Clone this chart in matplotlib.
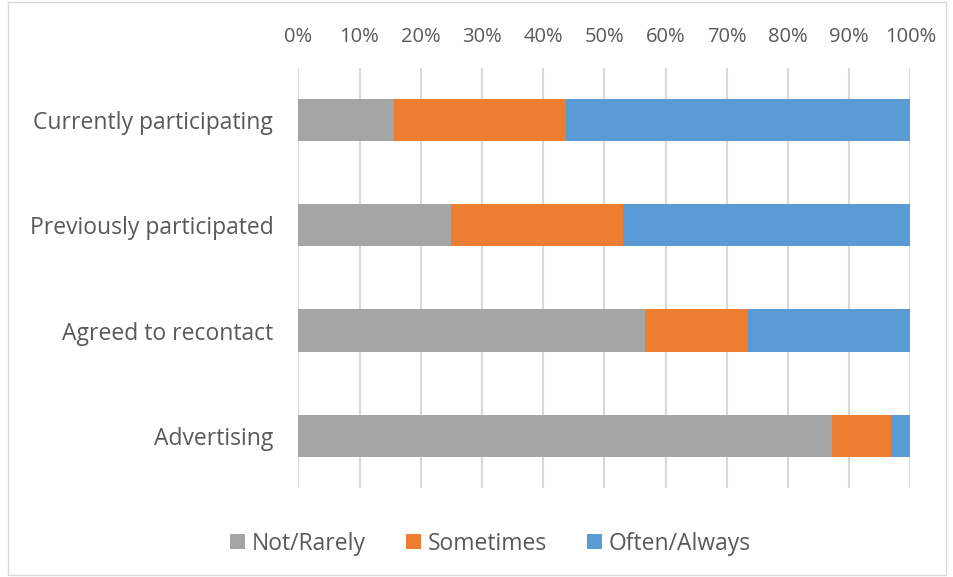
import matplotlib
matplotlib.use('Agg')
import matplotlib.pyplot as plt
from matplotlib.patches import Rectangle
import numpy as np

categories = ["Currently participating", "Previously participated",
              "Agreed to recontact", "Advertising"]
not_rarely = [15.6, 25.0, 56.6, 87.2]
sometimes = [28.1, 28.1, 16.8, 9.6]
often_always = [56.3, 46.9, 26.6, 3.2]
series_names = ["Not/Rarely", "Sometimes", "Often/Always"]
colors = ["#a5a5a5", "#ed7d31", "#5b9bd5"]
xticks = list(range(0, 101, 10))

plt.rcParams['font.family'] = ['Open Sans', 'DejaVu Sans']
text_color = '#595959'

fig = plt.figure(figsize=(9.54, 5.77), dpi=100)
ax = fig.add_axes([0.3127, 0.1537, 0.6415, 0.7293])

y = np.arange(len(categories))
left = np.zeros(len(categories))
for vals, name, c in zip([not_rarely, sometimes, often_always], series_names, colors):
    ax.barh(y, vals, left=left, height=0.4, color=c, label=name, zorder=3)
    left += np.array(vals)

ax.set_xlim(0, 100)
ax.set_ylim(len(categories) - 0.5, -0.5)
ax.set_xticks(xticks)
ax.set_xticklabels([f"{t}%" for t in xticks])
ax.xaxis.tick_top()
ax.set_yticks(y)
ax.set_yticklabels(categories)
ax.tick_params(axis='x', length=0, pad=15, labelsize=14.5, labelcolor=text_color)
ax.tick_params(axis='y', length=0, pad=18, labelsize=16.5, labelcolor=text_color)
ax.grid(axis='x', color='#d9d9d9', linewidth=1.5, zorder=0)
for s in ax.spines.values():
    s.set_visible(False)

fig.legend(loc='center', bbox_to_anchor=(0.514, 0.058), ncol=3, frameon=False,
           fontsize=16.5, handlelength=0.65, handleheight=0.65, columnspacing=1.75,
           handletextpad=0.3, labelcolor=text_color)

fig.patches.append(Rectangle((0.008, 0.003), 0.984, 0.994, transform=fig.transFigure,
                             fill=False, edgecolor='#d9d9d9', linewidth=1))

plt.savefig("out.png", dpi=100)
plt.close()
